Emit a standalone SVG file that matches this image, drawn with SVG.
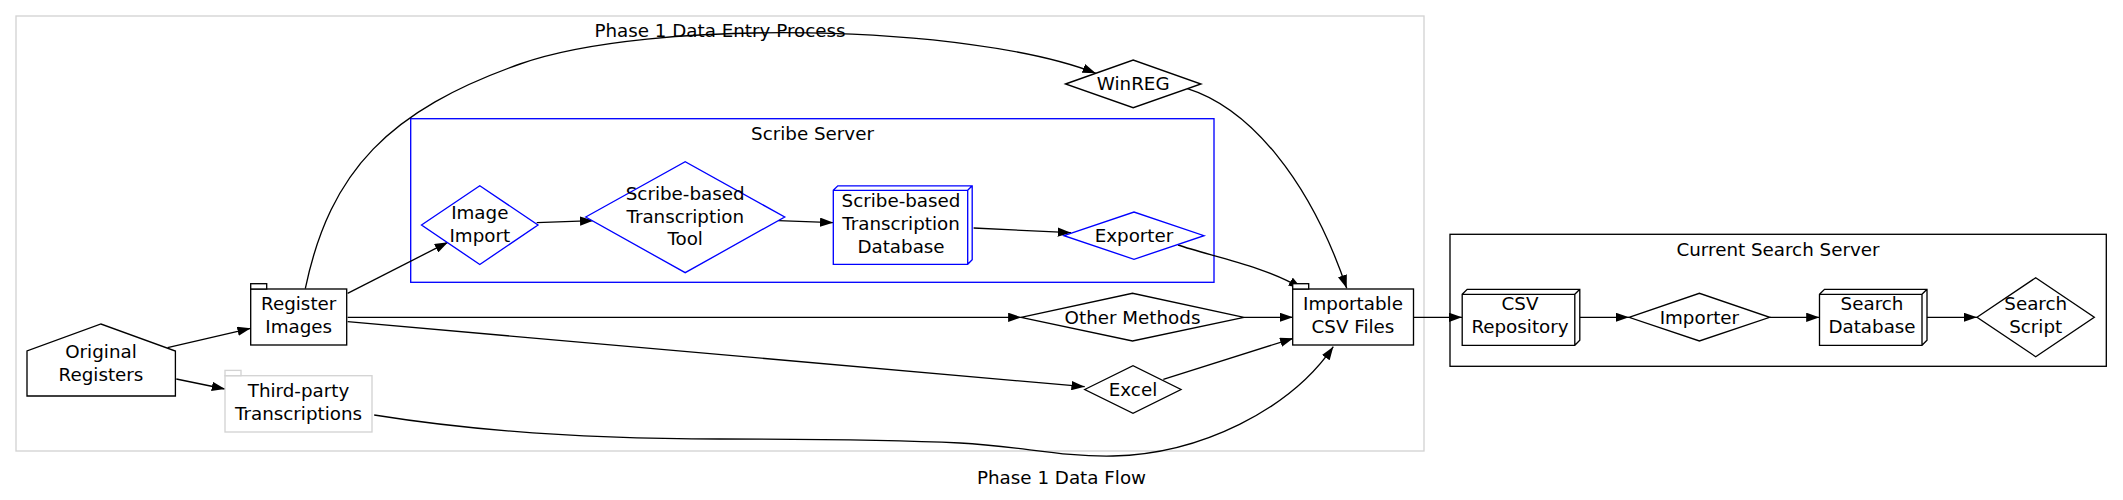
<svg xmlns="http://www.w3.org/2000/svg" width="2123" height="500" viewBox="0 0 2123 500">
<style>
text{font-family:"DejaVu Sans","Liberation Sans",sans-serif;font-size:18.3px;fill:#000;text-anchor:middle}
.n{fill:#fff;stroke:#000;stroke-width:1.33}
.b{fill:#fff;stroke:#0000ff;stroke-width:1.33}
.g{fill:#fff;stroke:#d3d3d3;stroke-width:1.33}
.e{fill:none;stroke:#000;stroke-width:1.33;marker-end:url(#arr)}
.c{fill:none;stroke-width:1.33}
</style>
<defs>
<marker id="arr" viewBox="0 0 13.3 9.3" refX="13.3" refY="4.65" markerWidth="13.3" markerHeight="9.3" markerUnits="userSpaceOnUse" orient="auto">
<path d="M0,0 L13.3,4.65 L0,9.3 z" fill="#000"/>
</marker>
</defs>
<rect width="2123" height="500" fill="#fff"/>
<g id="cluster-phase1">
<rect class="c" x="16" y="16" width="1408" height="435" stroke="#d3d3d3"/>
<text x="720" y="36.5">Phase 1 Data Entry Process</text>
</g>
<g id="cluster-scribe">
<rect class="c" x="410.7" y="118.7" width="803.3" height="163.6" stroke="#0000ff"/>
<text x="812.5" y="139.7">Scribe Server</text>
</g>
<g id="cluster-search">
<rect class="c" x="1450" y="234.3" width="656.3" height="132" stroke="#000"/>
<text x="1778" y="256">Current Search Server</text>
</g>
<g id="connectors">
<path class="e" d="M167.6,347.7 L250.7,328.3"/>
<path class="e" d="M176.3,379 L225,389"/>
<path class="e" d="M347.6,293.3 L448,242.2"/>
<path class="e" d="M536.7,222.7 L593.3,220.7"/>
<path class="e" d="M778.3,220.7 L833.3,222.7"/>
<path class="e" d="M973.6,228 L1071,232.7"/>
<path class="e" d="M1178,245 C1210,256 1265,266 1301.7,288.5"/>
<path class="e" d="M1186.7,88.3 C1250,108 1310,180 1346.7,288.3"/>
<path class="e" d="M305.3,288.7 C330,170 390,110 520,64 C650,18 970,24 1095.8,73.3"/>
<path class="e" d="M347.6,317.3 L1021.4,317.3"/>
<path class="e" d="M1244,317.3 L1293,317.3"/>
<path class="e" d="M347.6,321.7 L1084.7,386.7"/>
<path class="e" d="M1163.3,379.3 L1293.3,338.3"/>
<path class="e" d="M374.2,415 C480,432 600,439 720,439 C800,439 880,439 960,443 C1020,446 1060,457 1113,456 C1200,454 1290,410 1333.3,346.7"/>
<path class="e" d="M1413.5,317.3 L1462.2,317.3"/>
<path class="e" d="M1579.8,317.3 L1629,317.3"/>
<path class="e" d="M1769.7,317.3 L1819.5,317.3"/>
<path class="e" d="M1927,317.3 L1977,317.3"/>
</g>
<g id="node-original-registers">
<polygon class="n" points="27,396 175.4,396 175.4,351 101,324 27,351"/>
<text x="101" y="358.3">Original</text>
<text x="101" y="381.3">Registers</text>
</g>
<g id="node-register-images">
<rect class="n" x="250.7" y="289" width="96" height="56"/>
<rect class="n" x="250.7" y="283.7" width="16" height="5.3"/>
<text x="298.7" y="310.2">Register</text>
<text x="298.7" y="333.2">Images</text>
</g>
<g id="node-third-party">
<rect class="g" x="225" y="375.7" width="147" height="56.3"/>
<rect class="g" x="225" y="370.4" width="16" height="5.3"/>
<text x="298.5" y="397.2">Third-party</text>
<text x="298.5" y="420.2">Transcriptions</text>
</g>
<g id="node-image-import">
<polygon class="b" points="421.5,225 479.8,185.7 538,225 479.8,264.5"/>
<text x="479.8" y="218.5">Image</text>
<text x="479.8" y="241.5">Import</text>
</g>
<g id="node-transcription-tool">
<polygon class="b" points="585.7,217 685.2,161.7 784.7,217 685.2,272.7"/>
<text x="685.2" y="200">Scribe-based</text>
<text x="685.2" y="222.7">Transcription</text>
<text x="685.2" y="245.4">Tool</text>
</g>
<g id="node-transcription-db">
<path class="b" d="M833.3,190.3 L837.8,185.8 L972.2,185.8 L972.2,259.8 L967.7,264.3 L833.3,264.3 Z M967.7,264.3 L967.7,190.3 L833.3,190.3 M967.7,190.3 L972.2,185.8"/>
<text x="901" y="207.2">Scribe-based</text>
<text x="901" y="230.2">Transcription</text>
<text x="901" y="253.2">Database</text>
</g>
<g id="node-exporter">
<polygon class="b" points="1064,235.7 1134,212 1204,235.7 1134,259.3"/>
<text x="1134" y="241.5">Exporter</text>
</g>
<g id="node-winreg">
<polygon class="n" points="1065.5,84 1133.2,60 1201,84 1133.2,107.7"/>
<text x="1133.2" y="89.5">WinREG</text>
</g>
<g id="node-other-methods">
<polygon class="n" points="1021,317.3 1132.5,293.3 1244,317.3 1132.5,341"/>
<text x="1132.5" y="323.5">Other Methods</text>
</g>
<g id="node-excel">
<polygon class="n" points="1084.7,389.5 1133,365.7 1181,389.5 1133,413.3"/>
<text x="1133" y="395.5">Excel</text>
</g>
<g id="node-importable-csv">
<rect class="n" x="1292.7" y="289" width="120.8" height="56"/>
<rect class="n" x="1292.7" y="283.7" width="16" height="5.3"/>
<text x="1353" y="310.2">Importable</text>
<text x="1353" y="333.2">CSV Files</text>
</g>
<g id="node-csv-repository">
<path class="n" d="M1462.2,294.3 L1467.2,289.3 L1579.8,289.3 L1579.8,340.3 L1574.8,345.3 L1462.2,345.3 Z M1574.8,345.3 L1574.8,294.3 L1462.2,294.3 M1574.8,294.3 L1579.8,289.3"/>
<text x="1520" y="310.2">CSV</text>
<text x="1520" y="333.2">Repository</text>
</g>
<g id="node-importer">
<polygon class="n" points="1629,317.3 1699.4,293.3 1769.7,317.3 1699.4,341"/>
<text x="1699.4" y="323.5">Importer</text>
</g>
<g id="node-search-database">
<path class="n" d="M1819.5,294.3 L1824.5,289.3 L1927,289.3 L1927,340.3 L1922,345.3 L1819.5,345.3 Z M1922,345.3 L1922,294.3 L1819.5,294.3 M1922,294.3 L1927,289.3"/>
<text x="1872" y="310.2">Search</text>
<text x="1872" y="333.2">Database</text>
</g>
<g id="node-search-script">
<polygon class="n" points="1977,317.3 2035.7,277.7 2094.3,317.3 2035.7,356.7"/>
<text x="2035.7" y="310.2">Search</text>
<text x="2035.7" y="333.2">Script</text>
</g>
<text x="1061.5" y="483.5">Phase 1 Data Flow</text>
</svg>
